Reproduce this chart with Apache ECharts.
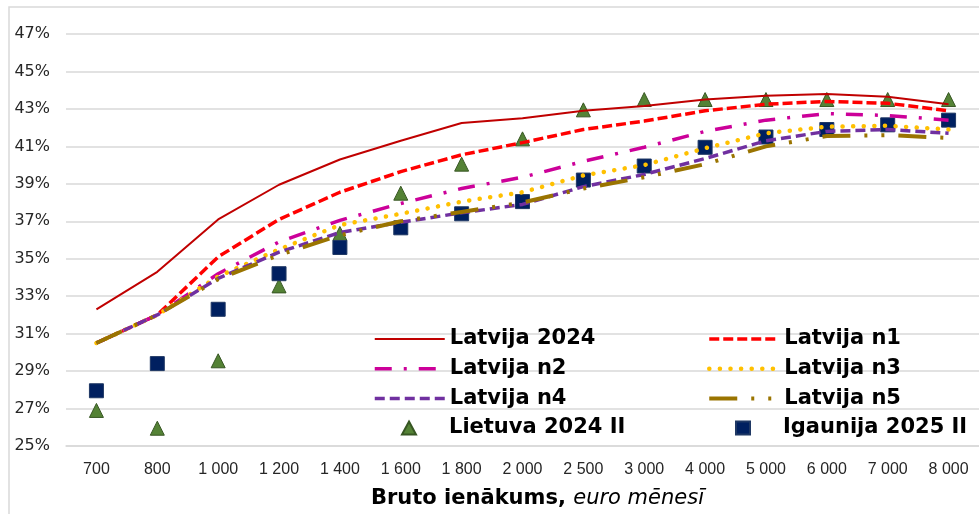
<!DOCTYPE html>
<html>
<head>
<meta charset="utf-8">
<script src="https://cdn.jsdelivr.net/npm/echarts@6/dist/echarts.min.js"></script>
<style>
  html, body { margin: 0; padding: 0; background: #fff; }
  #chart { width: 979px; height: 514px; }
</style>
</head>
<body>
<div id="chart"></div>
<script>
// bruto ienākumi (euro mēnesī)
const categories = ['700', '800', '1 000', '1 200', '1 400', '1 600', '1 800', '2 000',
  '2 500', '3 000', '4 000', '5 000', '6 000', '7 000', '8 000']

// nodokļu slogs, %
const latvija2024 = [32.3, 34.3, 37.1, 38.95, 40.3, 41.3, 42.25, 42.5, 42.9, 43.15, 43.5, 43.7, 43.8, 43.65, 43.25]
const latvijaN1 = [30.5, 32.0, 35.1, 37.1, 38.55, 39.65, 40.55, 41.2, 41.9, 42.35, 42.9, 43.25, 43.4, 43.3, 42.9]
const latvijaN2 = [30.5, 32.0, 34.2, 35.9, 37.05, 37.95, 38.75, 39.35, 40.2, 40.95, 41.8, 42.4, 42.75, 42.65, 42.4]
const latvijaN3 = [30.5, 32.0, 34.05, 35.5, 36.8, 37.4, 38.05, 38.55, 39.45, 40.0, 40.9, 41.7, 42.05, 42.1, 41.9]
const latvijaN4 = [30.5, 32.0, 33.95, 35.35, 36.4, 36.95, 37.45, 37.9, 38.85, 39.5, 40.35, 41.3, 41.8, 41.9, 41.7]
const latvijaN5 = [30.5, 32.0, 33.9, 35.2, 36.25, 37.0, 37.5, 38.0, 38.75, 39.35, 40.05, 41.0, 41.55, 41.6, 41.45]
const lietuva2024 = [26.9, 25.95, 29.55, 33.55, 36.35, 38.5, 40.05, 41.4, 42.95, 43.5, 43.5, 43.5, 43.5, 43.5, 43.5]
const igaunija2025 = [27.95, 29.4, 32.3, 34.2, 35.6, 36.65, 37.4, 38.05, 39.2, 39.95, 40.95, 41.5, 41.9, 42.15, 42.4]

// y ass: 25% .. 47%, solis 2%
const yMin = 25
const yMax = 47
const yStep = 2

// ass sākas no 0, lai iedaļas būtu 25, 27, ... (vērtības nobīdītas par yMin)
const shift = arr => arr.map(v => +(v - yMin).toFixed(3))

const lineSeries = (name, data, color, width, type, cap) => ({
  name,
  type: 'line',
  data: shift(data),
  symbol: 'none',
  smooth: false,
  lineStyle: { color, width, type, cap: cap || 'butt' },
  itemStyle: { color }
})

const legendFont = { fontFamily: 'DejaVu Sans', fontWeight: 'bold', fontSize: 21, lineHeight: 22, color: '#000' }

// leģenda: 2 kolonnas, līnijas atsevišķi no punktiem
const lineLegend = (left, names) => ({
  orient: 'vertical',
  left,
  top: 323,
  itemWidth: 70,
  itemHeight: 14,
  itemGap: 7.7,
  data: names,
  itemStyle: { opacity: 0 },
  lineStyle: { width: 'inherit', type: 'inherit', cap: 'inherit' },
  textStyle: legendFont
})
const markerLegend = (left, names) => ({
  orient: 'vertical',
  left: left + 28,
  top: 412,
  itemWidth: 14,
  itemHeight: 13,
  data: names,
  textStyle: Object.assign({ padding: [0, 0, 0, 28] }, legendFont)
})

const chart = echarts.init(document.getElementById('chart'))

chart.setOption({
  animation: false,
  graphic: [{
    type: 'rect',
    shape: { x: 9, y: 7, width: 1200, height: 800 },
    style: { fill: 'none', stroke: '#d9d9d9', lineWidth: 1.5 },
    silent: true
  }],
  grid: { left: 66, top: 34, width: 921.7, height: 415.3, containLabel: false },
  legend: [
    lineLegend(368, ['Latvija 2024', 'Latvija n2', 'Latvija n4']),
    lineLegend(702, ['Latvija n1', 'Latvija n3', 'Latvija n5']),
    markerLegend(368, ['Lietuva 2024 II']),
    markerLegend(702, ['Igaunija 2025 II'])
  ],
  xAxis: {
    type: 'category',
    data: categories,
    boundaryGap: true,
    axisLine: { show: true, lineStyle: { color: '#d9d9d9', width: 1.5 } },
    axisTick: { show: false },
    axisLabel: { fontFamily: 'Liberation Sans', fontSize: 16, color: '#262626', margin: 16, interval: 0 },
    name: '{b|Bruto ienākums, }{i|euro mēnesī}',
    nameLocation: 'middle',
    nameGap: 42,
    nameTextStyle: {
      padding: [0, 0, 0, 30],
      rich: {
        b: { fontFamily: 'DejaVu Sans', fontWeight: 'bold', fontSize: 21, color: '#000' },
        i: { fontFamily: 'DejaVu Sans', fontStyle: 'italic', fontSize: 21, color: '#000' }
      }
    }
  },
  yAxis: {
    type: 'value',
    min: 0,
    max: yMax - yMin,
    interval: yStep,
    axisLine: { show: false },
    axisTick: { show: false },
    axisLabel: {
      fontFamily: 'DejaVu Sans',
      fontSize: 16,
      color: '#262626',
      margin: 16,
      formatter: v => (v + yMin) + '%'
    },
    splitLine: { lineStyle: { color: '#d9d9d9', width: 1.5 } }
  },
  series: [
    lineSeries('Latvija 2024', latvija2024, '#c00000', 2, 'solid'),
    lineSeries('Latvija n1', latvijaN1, '#ff0000', 3.5, [10, 4]),
    lineSeries('Latvija n2', latvijaN2, '#cc0099', 3.5, [17, 12, 3, 12]),
    lineSeries('Latvija n3', latvijaN3, '#ffc000', 4.5, [0.1, 10.5], 'round'),
    lineSeries('Latvija n4', latvijaN4, '#7030a0', 3.5, [10, 5]),
    lineSeries('Latvija n5', latvijaN5, '#9a7400', 4, [28, 14, 3, 14, 3, 14]),
    {
      name: 'Lietuva 2024 II',
      type: 'scatter',
      data: shift(lietuva2024),
      symbol: 'triangle',
      symbolSize: 14,
      itemStyle: { color: '#548235', borderColor: '#375623', borderWidth: 1, opacity: 1 }
    },
    {
      name: 'Igaunija 2025 II',
      type: 'scatter',
      data: shift(igaunija2025),
      symbol: 'rect',
      symbolSize: 14,
      itemStyle: { color: '#002060', borderColor: '#1f3864', borderWidth: 1, opacity: 1 }
    }
  ]
})
</script>
</body>
</html>
